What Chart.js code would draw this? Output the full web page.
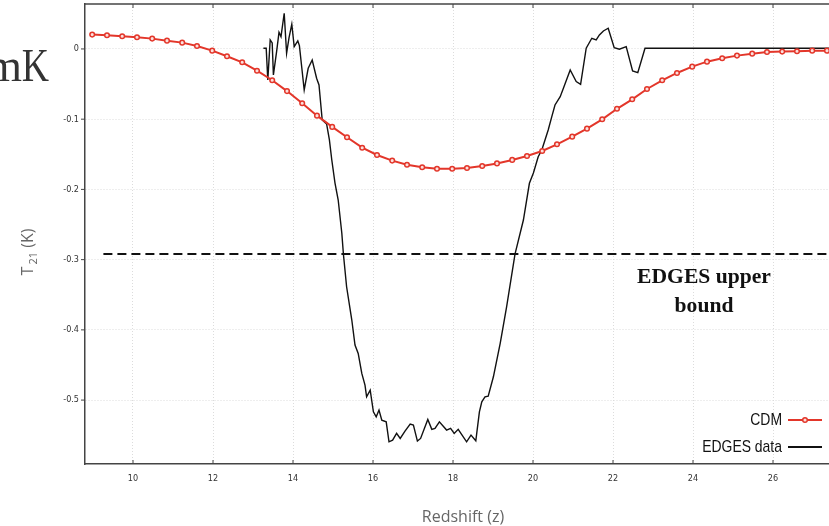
<!DOCTYPE html>
<html>
<head>
<meta charset="utf-8">
<script src="https://cdn.jsdelivr.net/npm/chart.js@4.4.1/dist/chart.umd.min.js"></script>
<style>
  html, body { margin: 0; padding: 0; background: #fff; }
  #wrap { position: relative; width: 829px; height: 526px; }
</style>
</head>
<body>
<div id="wrap"><canvas id="c" width="829" height="526"></canvas></div>
<script>
// CDM model curve (red, with markers)
var cdmZ = [8.98, 9.35, 9.73, 10.1, 10.48, 10.85, 11.23, 11.6, 11.98, 12.35,
            12.73, 13.1, 13.48, 13.85, 14.23, 14.6, 14.98, 15.35, 15.73, 16.1,
            16.48, 16.85, 17.23, 17.6, 17.98, 18.35, 18.73, 19.1, 19.48, 19.85,
            20.23, 20.6, 20.98, 21.35, 21.73, 22.1, 22.48, 22.85, 23.23, 23.6,
            23.98, 24.35, 24.73, 25.1, 25.48, 25.85, 26.23, 26.6, 26.98, 27.35];
var cdmT = [0.0204, 0.0195, 0.018, 0.0167, 0.0147, 0.0118, 0.009, 0.0043, -0.0024, -0.0104,
            -0.019, -0.031, -0.0446, -0.060, -0.0774, -0.095, -0.111, -0.1258, -0.1406, -0.151,
            -0.159, -0.1648, -0.1685, -0.1705, -0.1705, -0.1695, -0.1667, -0.163, -0.158, -0.1524,
            -0.1453, -0.1358, -0.1249, -0.1135, -0.1002, -0.0852, -0.0717, -0.057, -0.0446, -0.0342,
            -0.0252, -0.0181, -0.0133, -0.0095, -0.0067, -0.0043, -0.0038, -0.0033, -0.0024, -0.0024];

// EDGES measured profile (black)
var edgesZ = [13.26, 13.33, 13.37, 13.43, 13.48, 13.51, 13.59, 13.65, 13.7, 13.78,
              13.84, 13.9, 13.97, 14.03, 14.12, 14.16, 14.28, 14.38, 14.48, 14.59,
              14.65, 14.73, 14.84, 14.91, 14.97, 15.05, 15.13, 15.22, 15.26, 15.34,
              15.47, 15.55, 15.63, 15.72, 15.8, 15.84, 15.93, 16.01, 16.08, 16.15,
              16.22, 16.33, 16.4, 16.49, 16.59, 16.68, 16.8, 16.93, 17.01, 17.11,
              17.19, 17.37, 17.47, 17.55, 17.66, 17.84, 17.94, 18.03, 18.13, 18.34,
              18.45, 18.57, 18.66, 18.72, 18.8, 18.88, 19.01, 19.18, 19.34, 19.55,
              19.76, 19.91, 20.01, 20.13, 20.22, 20.3, 20.38, 20.47, 20.55, 20.68,
              20.76, 20.93, 21.08, 21.19, 21.33, 21.47, 21.58, 21.66, 21.76, 21.88,
              22.03, 22.16, 22.33, 22.49, 22.62, 22.8, 27.4];
var edgesT = [0.001, 0.001, -0.0442, 0.0128, 0.0085, -0.037, -0.0038, 0.0237, 0.0175, 0.0508,
              -0.0061, 0.0157, 0.0352, 0.0033, 0.0114, 0.0047, -0.0584, -0.0275, -0.0157, -0.0417,
              -0.0513, -0.1011, -0.1068, -0.1296, -0.1581, -0.1909, -0.2151, -0.2621, -0.292, -0.3386,
              -0.386, -0.4217, -0.4336, -0.462, -0.4786, -0.4953, -0.4858, -0.5167, -0.5238, -0.5142,
              -0.5285, -0.5309, -0.5594, -0.557, -0.5474, -0.5546, -0.5442, -0.5342, -0.5356, -0.5584,
              -0.5546, -0.5275, -0.5417, -0.5403, -0.5309, -0.5427, -0.5403, -0.5474, -0.5417, -0.5594,
              -0.5499, -0.558, -0.5167, -0.5024, -0.4953, -0.4943, -0.4668, -0.4192, -0.3672, -0.292,
              -0.2436, -0.1913, -0.1766, -0.1534, -0.1439, -0.1296, -0.1154, -0.0964, -0.0798, -0.0679,
              -0.056, -0.0299, -0.0465, -0.0503, 0.001, 0.0152, 0.0128, 0.0199, 0.0256, 0.0295,
              0.0019, -0.0004, 0.0033, -0.0313, -0.0338, 0.001, 0.001];

// EDGES upper bound (dashed)
var boundZ = [9.26, 27.4];
var boundT = [-0.292, -0.292];

var xTicks = [10, 12, 14, 16, 18, 20, 22, 24, 26];
var yTicks = [0, -0.1, -0.2, -0.3, -0.4, -0.5];

var RED = '#e3362a';
var narrow = '"DejaVu Sans Condensed", sans-serif';

function pts(xs, ys) {
  return xs.map(function (x, i) { return { x: x, y: ys[i] }; });
}

function line(ctx, x1, y1, x2, y2) {
  ctx.beginPath(); ctx.moveTo(x1, y1); ctx.lineTo(x2, y2); ctx.stroke();
}

// text squeezed horizontally (the source picture is a bit narrow)
function squeezed(ctx, txt, x, y, sx, align) {
  ctx.save();
  ctx.translate(x, y);
  ctx.scale(sx, 1);
  ctx.textAlign = align;
  ctx.fillText(txt, 0, 0);
  ctx.restore();
}

function noPad(s) {
  s.paddingTop = 0; s.paddingBottom = 0; s.paddingLeft = 0; s.paddingRight = 0;
}

// frame, tick marks, legend, labels
var extras = {
  id: 'extras',
  afterDraw: function (chart) {
    var ctx = chart.ctx, a = chart.chartArea;
    var xs = chart.scales.x, ys = chart.scales.y;
    ctx.save();

    ctx.strokeStyle = '#444';
    ctx.lineWidth = 1.5;
    line(ctx, a.left, a.top, a.right, a.top);
    ctx.lineWidth = 1;
    xTicks.forEach(function (v) {
      var px = xs.getPixelForValue(v);
      line(ctx, px, a.top, px, a.top + 4);
      line(ctx, px, a.bottom, px, a.bottom - 4);
    });
    yTicks.forEach(function (v) {
      var py = ys.getPixelForValue(v);
      line(ctx, a.left - 4, py, a.left, py);
    });

    // legend
    ctx.font = '17px "Liberation Sans", Arial, sans-serif';
    ctx.fillStyle = '#111';
    ctx.textBaseline = 'middle';
    squeezed(ctx, 'CDM', 782, 420, 0.82, 'right');
    squeezed(ctx, 'EDGES data', 782, 447, 0.82, 'right');
    ctx.strokeStyle = RED; ctx.lineWidth = 2;
    line(ctx, 788, 420, 822, 420);
    ctx.beginPath(); ctx.arc(805, 420, 2.3, 0, Math.PI * 2);
    ctx.fillStyle = '#fbe0dd'; ctx.fill(); ctx.lineWidth = 1.5; ctx.stroke();
    ctx.strokeStyle = '#111'; ctx.lineWidth = 2;
    line(ctx, 788, 447, 822, 447);

    // annotation
    ctx.fillStyle = '#111';
    ctx.textBaseline = 'alphabetic';
    ctx.font = 'bold 20px "Liberation Serif", serif';
    squeezed(ctx, 'EDGES upper', 704, 283, 1.08, 'center');
    squeezed(ctx, 'bound', 704, 312, 1.08, 'center');

    // clipped "mK" at the top left (the m runs off the left edge)
    ctx.font = '46px "Liberation Serif", serif';
    ctx.fillStyle = '#333';
    squeezed(ctx, 'K', 49, 81, 0.82, 'right');
    squeezed(ctx, 'm', 22, 81, 1, 'right');

    // axis titles
    ctx.fillStyle = '#666';
    ctx.textAlign = 'center';
    ctx.font = '16px "Open Sans", sans-serif';
    ctx.fillText('Redshift (z)', 463, 522);

    ctx.save();
    ctx.translate(33, 252);
    ctx.rotate(-Math.PI / 2);
    ctx.textAlign = 'left';
    var f1 = '16px "Open Sans", sans-serif', f2 = '11px "Open Sans", sans-serif';
    ctx.font = f1; var wT = ctx.measureText('T').width, wK = ctx.measureText(' (K)').width;
    ctx.font = f2; var w21 = ctx.measureText('21').width;
    var x0 = -(wT + w21 + 2 + wK) / 2;
    ctx.font = f1; ctx.fillText('T', x0, 0);
    ctx.font = f2; ctx.fillText('21', x0 + wT + 2, 4);
    ctx.font = f1; ctx.fillText(' (K)', x0 + wT + w21 + 2, 0);
    ctx.restore();

    ctx.restore();
  }
};

new Chart(document.getElementById('c'), {
  type: 'line',
  data: {
    datasets: [
      {
        label: 'CDM',
        data: pts(cdmZ, cdmT),
        borderColor: RED,
        borderWidth: 2,
        pointRadius: 2.3,
        pointBorderWidth: 1.5,
        pointBorderColor: RED,
        pointBackgroundColor: '#fbe0dd',
        tension: 0,
        order: 0
      },
      {
        label: 'EDGES data',
        data: pts(edgesZ, edgesT),
        borderColor: '#111',
        borderWidth: 1.4,
        pointRadius: 0,
        tension: 0,
        order: 1
      },
      {
        label: 'bound',
        data: pts(boundZ, boundT),
        borderColor: '#111',
        borderWidth: 2,
        borderDash: [9, 5],
        pointRadius: 0,
        order: 2
      }
    ]
  },
  options: {
    responsive: false,
    animation: false,
    devicePixelRatio: 1,
    layout: { autoPadding: false, padding: { top: 4, right: 0, left: 0, bottom: 0 } },
    plugins: { legend: { display: false }, tooltip: { enabled: false } },
    scales: {
      x: {
        type: 'linear',
        min: 8.8,
        max: 27.4,
        afterBuildTicks: function (s) { s.ticks = xTicks.map(function (v) { return { value: v }; }); },
        afterFit: function (s) { s.height = 62; noPad(s); },
        grid: { color: '#dcdcdc', lineWidth: 1, drawTicks: false },
        border: { color: '#444', width: 1.5, dash: [1, 2] },
        ticks: { padding: 9, color: '#333', font: { size: 9, family: narrow }, maxRotation: 0,
                 callback: function (v) { return String(v); } }
      },
      y: {
        type: 'linear',
        min: -0.591,
        max: 0.064,
        afterBuildTicks: function (s) { s.ticks = yTicks.map(function (v) { return { value: v }; }); },
        afterFit: function (s) { s.width = 85; noPad(s); },
        grid: { color: '#dcdcdc', lineWidth: 1, drawTicks: false },
        border: { color: '#444', width: 1.5, dash: [1, 2] },
        ticks: { padding: 6, color: '#333', font: { size: 9, family: narrow },
                 callback: function (v) { return String(Math.round(v * 10) / 10); } }
      }
    }
  },
  plugins: [extras]
});
</script>
</body>
</html>
